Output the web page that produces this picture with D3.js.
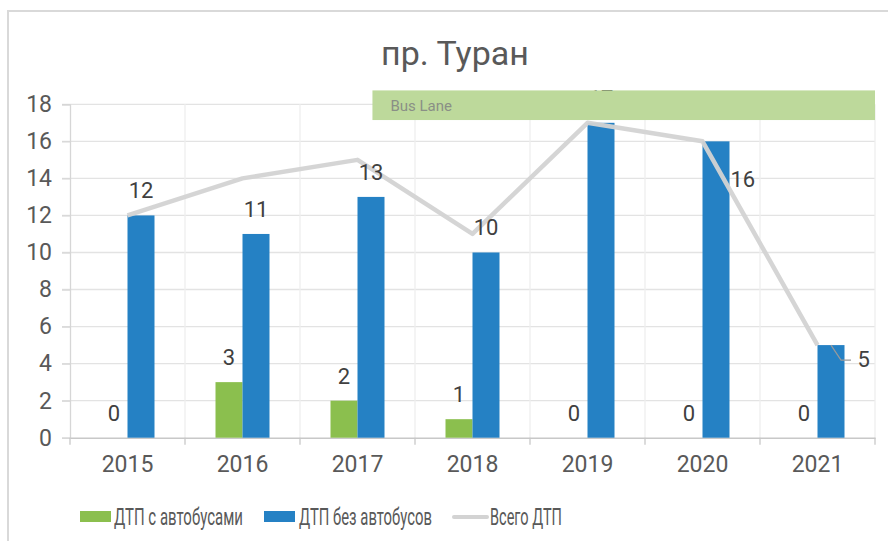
<!DOCTYPE html>
<html><head><meta charset="utf-8">
<script src="https://cdn.jsdelivr.net/npm/d3@7"></script>
<style>html,body{margin:0;padding:0;background:#fff;}svg{display:block;font-family:Roboto,"Noto Sans",sans-serif;}</style>
</head><body>
<script>
const years = ["2015","2016","2017","2018","2019","2020","2021"];
const withBus = [0,3,2,1,0,0,0];
const withoutBus = [12,11,13,10,17,16,5];
const totals = [12,14,15,11,17,16,5];
const yTicks = [0,2,4,6,8,10,12,14,16,18];
const seriesNames = ["ДТП с автобусами","ДТП без автобусов","Всего ДТП"];
const title = "пр. Туран";
const annotation = {text:"Bus Lane", startYear:"2017", startFrac:0.63, top:18.75, bottom:17.15};

const W=888,H=541;
const svg=d3.select("body").append("svg").attr("width",W).attr("height",H);
// chart area border
svg.append("rect").attr("x",8).attr("y",11).attr("width",W+20).attr("height",H+20)
  .attr("fill","#fff").attr("stroke","#d9d9d9").attr("stroke-width",2);

const x=d3.scaleBand().domain(years).range([70,875]).padding(0);
const y=d3.scaleLinear().domain([0,18]).range([437.7,104.3]);
const bw=27;
const green="#8bbf4e", blue="#2581c4", lineC="#d3d3d3", txt="#595959";

// horizontal gridlines
svg.append("g").selectAll("line").data(yTicks.filter(d=>d>0)).join("line")
  .attr("x1",62).attr("x2",875).attr("y1",d=>y(d)).attr("y2",d=>y(d))
  .attr("stroke","#e3e3e3").attr("stroke-width",1.3);
// vertical gridlines
svg.append("g").selectAll("line").data(d3.range(1,years.length+1)).join("line")
  .attr("x1",i=>70+i*x.bandwidth()).attr("x2",i=>70+i*x.bandwidth())
  .attr("y1",y(18)).attr("y2",y(0))
  .attr("stroke","#eeeeee").attr("stroke-width",1.3);

// y axis
const ya=svg.append("g").attr("transform","translate(70,0)")
  .call(d3.axisLeft(y).tickValues(yTicks).tickSize(8).tickPadding(10).tickFormat(d3.format("d")));
ya.select(".domain").attr("stroke","#d6d6d6").attr("stroke-width",1.3);
ya.selectAll(".tick line").attr("stroke","#d6d6d6").attr("stroke-width",1.3);
ya.selectAll("text").attr("fill",txt).attr("font-size","23px").attr("font-family","Roboto");

// x axis
const xa=svg.append("g").attr("transform",`translate(0,${y(0)})`)
  .call(d3.axisBottom(x).tickSize(0).tickPadding(18));
xa.select(".domain").attr("stroke","#c8c8c8").attr("stroke-width",1.5);
xa.selectAll("text").attr("fill",txt).attr("font-size","23px").attr("font-family","Roboto");
svg.append("g").selectAll("line").data(d3.range(years.length+1)).join("line")
  .attr("x1",i=>70+i*x.bandwidth()).attr("x2",i=>70+i*x.bandwidth())
  .attr("y1",y(0)).attr("y2",y(0)+7).attr("stroke","#c8c8c8").attr("stroke-width",1.3);

const cx=d=>x(d)+x.bandwidth()/2;
// bars
svg.append("g").selectAll("rect").data(years).join("rect")
  .attr("x",d=>cx(d)-bw).attr("width",bw)
  .attr("y",(d,i)=>y(withBus[i])).attr("height",(d,i)=>y(0)-y(withBus[i])).attr("fill",green);
svg.append("g").selectAll("rect").data(years).join("rect")
  .attr("x",d=>cx(d)).attr("width",bw)
  .attr("y",(d,i)=>y(withoutBus[i])).attr("height",(d,i)=>y(0)-y(withoutBus[i])).attr("fill",blue);

// total line
const line=d3.line().x((d,i)=>cx(years[i])).y(d=>y(d));
svg.append("path").datum(totals).attr("d",line).attr("fill","none")
  .attr("stroke",lineC).attr("stroke-width",4.5).attr("stroke-linejoin","round").attr("opacity",0.95);

// labels: green
svg.append("g").selectAll("text").data(years).join("text")
  .attr("x",d=>cx(d)-bw/2).attr("y",(d,i)=>y(withBus[i])-17)
  .attr("text-anchor","middle").attr("font-size","22px").attr("fill","#404040")
  .text((d,i)=>withBus[i]);
// labels: blue
svg.append("g").selectAll("text").data(years).join("text")
  .attr("x",(d,i)=> i===5 ? cx(d)+bw+1 : i===6 ? cx(d)+bw+13 : cx(d)+bw/2)
  .attr("y",(d,i)=> i===5 ? y(withoutBus[i])+46 : i===6 ? y(withoutBus[i])+22 : y(withoutBus[i])-17)
  .attr("text-anchor",(d,i)=>i>=5?"start":"middle").attr("font-size","22px").attr("fill","#404040")
  .text((d,i)=>withoutBus[i]);
// leader line for 2021
{
  const d="2021", v=withoutBus[6];
  const x0=cx(d)+bw/2, y0=y(v);
  svg.append("path").attr("d",`M${x0},${y0}L${x0+10},${y0+15}L${x0+20},${y0+15}`)
    .attr("fill","none").attr("stroke","#9a9a9a").attr("stroke-width",1.2);
}

// annotation
const ax0=x(annotation.startYear)+x.bandwidth()*annotation.startFrac;
svg.append("rect").attr("x",ax0).attr("y",y(annotation.top))
  .attr("width",875-ax0).attr("height",y(annotation.bottom)-y(annotation.top))
  .attr("fill","#bdd99b");
svg.append("text").attr("x",ax0+18).attr("y",(y(annotation.top)+y(annotation.bottom))/2+5.5)
  .attr("font-size","15px").attr("fill","#8a8f86").text(annotation.text);

// title
svg.append("text").attr("x",455).attr("y",65).attr("text-anchor","middle")
  .attr("font-size","34px").attr("fill",txt).text(title);

// legend (condensed look via horizontal scaling)
const lg=svg.append("g");
const items=[
  {name:seriesNames[0],type:"rect",color:green,sx:80,tx:114,tw:129},
  {name:seriesNames[1],type:"rect",color:blue,sx:264,tx:299,tw:133},
  {name:seriesNames[2],type:"line",color:lineC,sx:454,tx:490,tw:72}
];
items.forEach(it=>{
  if(it.type==="rect") lg.append("rect").attr("x",it.sx).attr("y",511).attr("width",31).attr("height",11).attr("fill",it.color);
  else lg.append("line").attr("x1",it.sx).attr("x2",it.sx+33).attr("y1",517).attr("y2",517).attr("stroke",it.color).attr("stroke-width",4).attr("stroke-linecap","round");
  const t=lg.append("text").attr("x",0).attr("y",0).attr("font-size","23px").attr("fill",txt).text(it.name);
  const nat=t.node().getComputedTextLength();
  t.attr("transform",`translate(${it.tx},525) scale(${it.tw/nat},1)`);
});
</script>
</body></html>
